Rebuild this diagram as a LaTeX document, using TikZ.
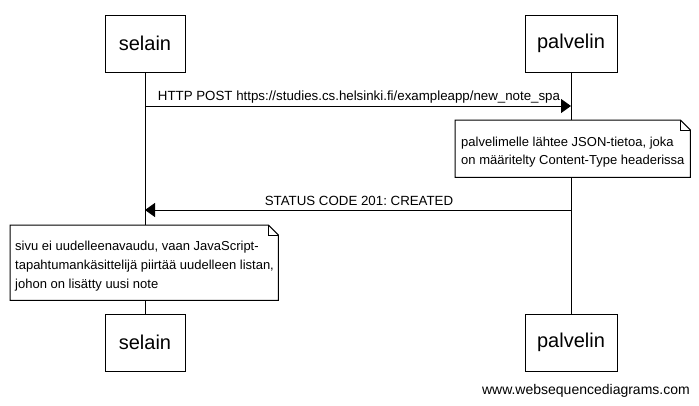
\documentclass[tikz,border=0pt]{standalone}
\usepackage{fontspec}
\setmainfont{Liberation Sans}
\usetikzlibrary{arrows.meta}
\frenchspacing
\tikzset{
  actor/.style={draw, line width=1pt, fill=white, minimum height=57pt, inner sep=0pt, font=\fontsize{20}{24}\selectfont},
  lifeline/.style={line width=1pt},
  msg/.style={line width=1pt, -{Triangle[length=10pt,width=14pt]}},
  msglabel/.style={font=\fontsize{13.3}{16}\selectfont, inner sep=0pt, anchor=base},
  notebox/.style={anchor=north west, inner sep=0pt},
  notetext/.style={anchor=base west, inner sep=0pt, font=\fontsize{13}{19}\selectfont},
  noteline/.style={line width=1pt},
  foldline/.style={line width=0.6pt}
}
\begin{document}
\begin{tikzpicture}[x=1pt,y=-1pt]
\useasboundingbox (0,0) rectangle (699,405);
% actors
\node[actor, minimum width=80pt] (selT) at (145,43.5) {selain};
\node[actor, minimum width=92pt] (palT) at (571,43.5) {palvelin};
\node[actor, minimum width=80pt] (selB) at (145,342.5) {selain};
\node[actor, minimum width=92pt] (palB) at (571,342.5) {palvelin};
% lifelines
\draw[lifeline] (selT.south) -- (selB.north);
\draw[lifeline] (palT.south) -- (palB.north);
% message 1
\coordinate (s1) at (145,106);
\coordinate (p1) at (571,106);
\draw[msg] (s1) -- (p1);
\node[msglabel] (l1) at (359,100) {HTTP POST https://studies.cs.helsinki.fi/exampleapp/new\_note\_spa};
% note 1
\node[notebox, minimum width=235pt, minimum height=57pt] (n1) at (455,120) {};
\filldraw[noteline, fill=white] (n1.north west) -- ([xshift=-10pt]n1.north east) -- ([yshift=-10pt]n1.north east) -- (n1.south east) -- (n1.south west) -- cycle;
\draw[foldline] ([xshift=-10pt]n1.north east) -- ([xshift=-10pt,yshift=-10pt]n1.north east) -- ([yshift=-10pt]n1.north east);
\node[notetext] (t1a) at (461,146) {palvelimelle lähtee JSON-tietoa, joka};
\node[notetext] (t1b) at (461,164) {on määritelty Content-Type headerissa};
% message 2
\coordinate (p2) at (571,210);
\coordinate (s2) at (145,210);
\draw[msg] (p2) -- (s2);
\node[msglabel] (l2) at (359,205) {STATUS CODE 201: CREATED};
% note 2
\node[notebox, minimum width=268pt, minimum height=75pt] (n2) at (10,225) {};
\filldraw[noteline, fill=white] (n2.north west) -- ([xshift=-10pt]n2.north east) -- ([yshift=-10pt]n2.north east) -- (n2.south east) -- (n2.south west) -- cycle;
\draw[foldline] ([xshift=-10pt]n2.north east) -- ([xshift=-10pt,yshift=-10pt]n2.north east) -- ([yshift=-10pt]n2.north east);
\node[notetext] (t2a) at (15,250) {sivu ei uudelleenavaudu, vaan JavaScript-};
\node[notetext] (t2b) at (15,269) {tapahtumankäsittelijä piirtää uudelleen listan,};
\node[notetext] (t2c) at (15,288) {johon on lisätty uusi note};
% footer
\node[font=\fontsize{14}{16}\selectfont, anchor=base east, inner sep=0pt] (foot) at (690,394) {www.websequencediagrams.com};
\end{tikzpicture}
\end{document}
